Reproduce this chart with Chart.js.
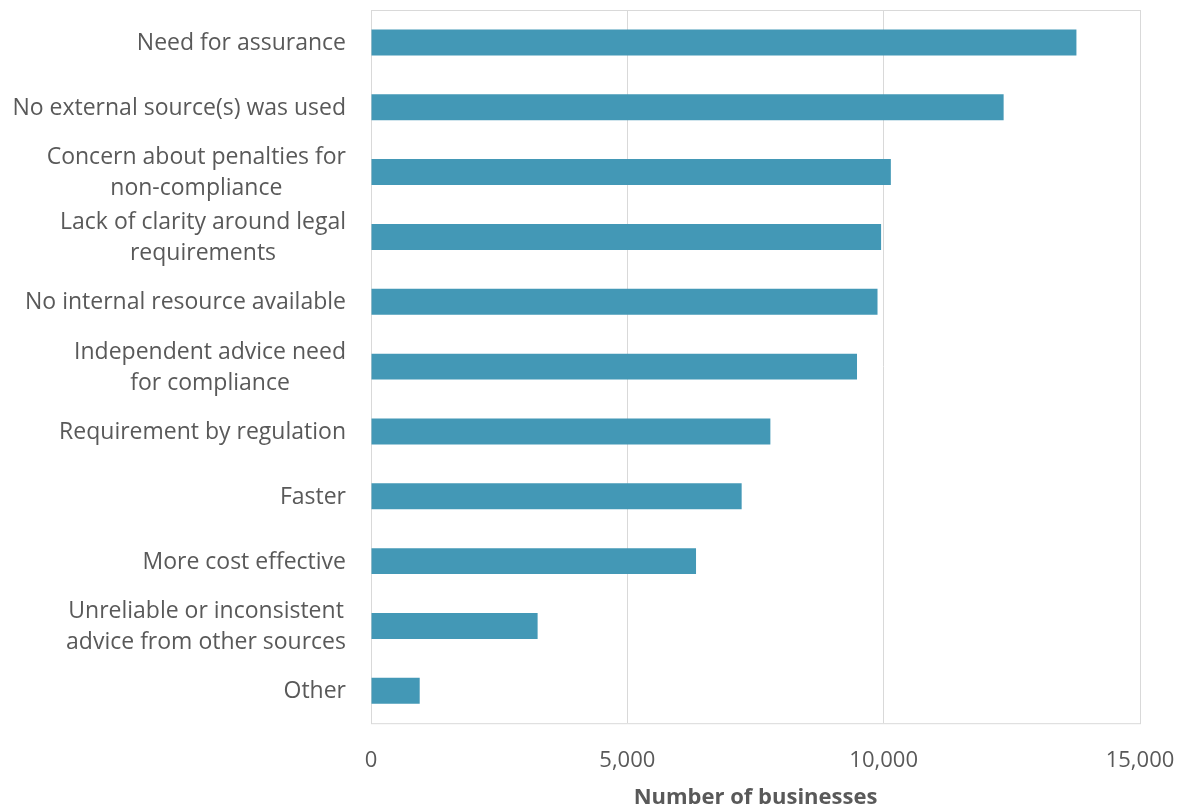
<!DOCTYPE html>
<html>
<head>
<meta charset="utf-8">
<script src="https://cdn.jsdelivr.net/npm/chart.js@4/dist/chart.umd.min.js"></script>
<style>
  html, body { margin: 0; padding: 0; background: #fff; }
  #wrap { width: 1185px; height: 811px; }
</style>
</head>
<body>
<div id="wrap"><canvas id="myChart"></canvas></div>
<script>
const reasons = [
  "Need for assurance",
  "No external source(s) was used",
  ["Concern about penalties for", "non-compliance"],
  ["Lack of clarity around legal", "requirements"],
  "No internal resource available",
  ["Independent advice need", "for compliance"],
  "Requirement by regulation",
  "Faster",
  "More cost effective",
  ["Unreliable or inconsistent", "advice from other sources"],
  "Other",
];
const businesses = [13760, 12340, 10140, 9950, 9880, 9480, 7790, 7230, 6340, 3250, 950];
const xTicks = [0, 5000, 10000, 15000];

const FONT = "'Open Sans', sans-serif";
const TEXT = "#595959";
const GRID = "#d9d9d9";

// frame around the plot area
const plotFrame = {
  id: "plotFrame",
  beforeDatasetsDraw(chart) {
    const { ctx, chartArea: a } = chart;
    ctx.save();
    ctx.strokeStyle = GRID;
    ctx.lineWidth = 1;
    ctx.strokeRect(a.left + 0.5, a.top + 0.5, a.right - a.left, a.bottom - a.top);
    ctx.restore();
  },
};

// category labels: right-aligned block, lines centred inside it
const categoryLabels = {
  id: "categoryLabels",
  afterDraw(chart) {
    const { ctx, chartArea } = chart;
    const y = chart.scales.y;
    const right = chartArea.left - 25;
    ctx.save();
    ctx.font = "23px " + FONT;
    ctx.fillStyle = TEXT;
    ctx.textAlign = "center";
    ctx.textBaseline = "middle";
    reasons.forEach((lbl, i) => {
      const lines = Array.isArray(lbl) ? lbl : [lbl];
      const w = Math.max(...lines.map((l) => ctx.measureText(l).width));
      const cx = right - w / 2;
      const cy = y.getPixelForTick(i) + 1;
      const lh = 31;
      lines.forEach((l, j) => {
        ctx.fillText(l, cx, cy + (j - (lines.length - 1) / 2) * lh);
      });
    });
    ctx.restore();
  },
};

new Chart(document.getElementById("myChart"), {
  type: "bar",
  data: {
    labels: reasons,
    datasets: [
      {
        label: "Number of businesses",
        data: businesses,
        backgroundColor: "#4398b6",
        borderWidth: 0,
        barPercentage: 0.8,
        categoryPercentage: 0.5,
      },
    ],
  },
  options: {
    indexAxis: "y",
    responsive: true,
    maintainAspectRatio: false,
    animation: false,
    layout: { padding: { left: 10, top: 10, right: 45, bottom: 0 } },
    plugins: {
      legend: { display: false },
      tooltip: { enabled: false },
    },
    scales: {
      x: {
        min: 0,
        max: 15000,
        afterBuildTicks(scale) {
          scale.ticks = xTicks.map((v) => ({ value: v }));
        },
        afterFit(scale) {
          scale.paddingLeft = 0;
          scale.paddingRight = 0;
          scale.height -= 19;
        },
        grid: { color: GRID, lineWidth: 1, drawTicks: false },
        border: { display: false },
        ticks: {
          color: TEXT,
          padding: 24,
          font: { family: FONT, size: 22 },
          callback: (v) => v.toLocaleString("en-US"),
        },
        title: {
          display: true,
          text: "Number of businesses",
          color: TEXT,
          font: { family: FONT, size: 22, weight: "bold" },
          padding: { top: 6, bottom: 0 },
        },
      },
      y: {
        grid: { display: false },
        border: { display: false },
        ticks: { display: false },
        afterFit(scale) {
          scale.width = 361;
        },
      },
    },
  },
  plugins: [plotFrame, categoryLabels],
});
</script>
</body>
</html>
